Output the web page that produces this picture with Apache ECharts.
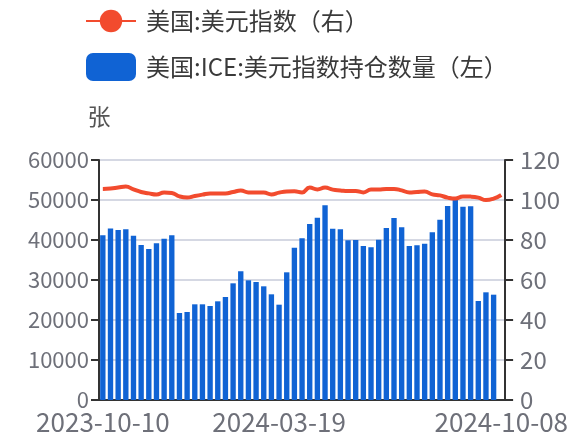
<!DOCTYPE html>
<html>
<head>
<meta charset="utf-8">
<script src="https://cdn.jsdelivr.net/npm/echarts@6/dist/echarts.min.js"></script>
<style>
  html, body { margin: 0; padding: 0; background: #fff; }
  #main { width: 571px; height: 436px; }
</style>
</head>
<body>
<div id="main"></div>
<script>
// 周度日期（类目轴）
var dates = [
  '2023-10-10', '2023-10-17', '2023-10-24', '2023-10-31', '2023-11-07', '2023-11-14',
  '2023-11-21', '2023-11-28', '2023-12-05', '2023-12-12', '2023-12-19', '2023-12-26',
  '2024-01-02', '2024-01-09', '2024-01-16', '2024-01-23', '2024-01-30', '2024-02-06',
  '2024-02-13', '2024-02-20', '2024-02-27', '2024-03-05', '2024-03-12', '2024-03-19',
  '2024-03-26', '2024-04-02', '2024-04-09', '2024-04-16', '2024-04-23', '2024-04-30',
  '2024-05-07', '2024-05-14', '2024-05-21', '2024-05-28', '2024-06-04', '2024-06-11',
  '2024-06-18', '2024-06-25', '2024-07-02', '2024-07-09', '2024-07-16', '2024-07-23',
  '2024-07-30', '2024-08-06', '2024-08-13', '2024-08-20', '2024-08-27', '2024-09-03',
  '2024-09-10', '2024-09-17', '2024-09-24', '2024-10-01', '2024-10-08'
];

// 美国:ICE:美元指数持仓数量（左），最后一周无数据
var openInterest = [
  41170, 42900, 42500, 42660, 41080, 38750, 37750, 39170, 40330, 41170,
  21750, 22000, 23920, 23920, 23500, 24670, 25750, 29170, 32170, 29920,
  29500, 28420, 26420, 23830, 31920, 38080, 40420, 44000, 45580, 48670,
  42830, 42670, 39920, 40000, 38500, 38170, 40080, 43000, 45500, 43170,
  38500, 38670, 39080, 41920, 45080, 48500, 50670, 48330, 48420, 24750,
  26920, 26330, '-'
];

// 美国:美元指数（右）
var dxy = [
  105.5, 105.7, 106.2, 106.7, 105.3, 104.0, 103.3, 102.7, 103.8, 103.5,
  101.8, 101.2, 102.0, 102.7, 103.3, 103.3, 103.3, 104.0, 104.7, 103.8,
  103.7, 103.7, 102.8, 103.7, 104.3, 104.4, 103.8, 106.2, 105.3, 106.2,
  105.2, 104.8, 104.5, 104.5, 103.8, 105.2, 105.2, 105.5, 105.5, 104.8,
  103.8, 104.0, 104.2, 102.8, 102.3, 101.2, 100.7, 101.8, 101.7, 101.2,
  100.0, 100.7, 102.5
];

var labelIdx = [0, 23, 52];
var font = 'Noto Sans CJK SC';
var grey = '#6e7079';

var chart = echarts.init(document.getElementById('main'), null, { renderer: 'canvas' });

var option = {
  animation: false,
  textStyle: { fontFamily: font },
  legend: {
    orient: 'vertical',
    left: 80,
    top: 4,
    itemWidth: 50,
    itemHeight: 28,
    itemGap: 20,
    textStyle: { color: '#3a3a3a', fontSize: 24, fontFamily: font, padding: [0, 0, 0, 5] },
    data: ['美国:美元指数（右）', '美国:ICE:美元指数持仓数量（左）']
  },
  grid: { left: 99, right: 64, top: 160, bottom: 36 },
  xAxis: {
    type: 'category',
    data: dates,
    boundaryGap: true,
    axisLine: { lineStyle: { color: '#333', width: 2 } },
    axisTick: { interval: 22, length: 8, lineStyle: { color: '#333', width: 2 } },
    axisLabel: {
      color: grey,
      fontSize: 26,
      fontFamily: font,
      margin: 9,
      interval: function (i) { return labelIdx.indexOf(i) >= 0; }
    }
  },
  yAxis: [{
    type: 'value',
    name: '张',
    nameLocation: 'end',
    nameGap: 32,
    nameTextStyle: { color: '#555', fontSize: 23, align: 'center' },
    min: 0, max: 60000, interval: 10000,
    axisLine: { show: true, lineStyle: { color: '#333', width: 2 } },
    axisTick: { show: true, length: 8, lineStyle: { color: '#333', width: 2 } },
    axisLabel: {
      color: grey, fontSize: 22, fontFamily: font, margin: 10,
      formatter: function (v) { return String(v); }
    },
    splitLine: { lineStyle: { color: '#d5d8e3', width: 2 } }
  }, {
    type: 'value',
    min: 0, max: 120, interval: 20,
    axisLine: { show: true, lineStyle: { color: '#333', width: 2 } },
    axisTick: { show: true, length: 8, lineStyle: { color: '#333', width: 2 } },
    axisLabel: { color: grey, fontSize: 24, fontFamily: font, margin: 15 },
    splitLine: { show: false }
  }],
  series: [{
    name: '美国:ICE:美元指数持仓数量（左）',
    type: 'bar',
    yAxisIndex: 0,
    data: openInterest,
    barCategoryGap: '30%',
    itemStyle: { color: '#1063d4' }
  }, {
    name: '美国:美元指数（右）',
    type: 'line',
    yAxisIndex: 1,
    data: dxy,
    smooth: true,
    symbol: 'circle',
    showSymbol: false,
    lineStyle: { color: '#f24b2e', width: 4 },
    itemStyle: { color: '#f24b2e' }
  }]
};

chart.setOption(option);
</script>
</body>
</html>
